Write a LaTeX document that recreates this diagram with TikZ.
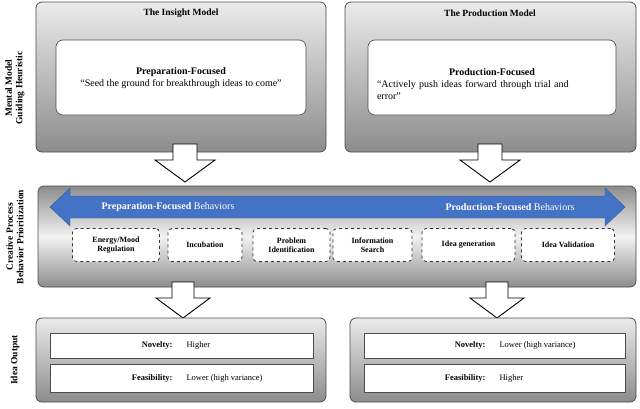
\documentclass[tikz,border=0pt]{standalone}
\usepackage{fontspec}
\setmainfont{Liberation Serif}
\begin{document}
\begin{tikzpicture}[x=1pt,y=-1pt,
  panel/.style={draw=black!70,rounded corners=6pt,top color=black!8,bottom color=black!45,line width=0.8pt},
  inner/.style={draw=black!70,fill=white,rounded corners=7pt,line width=0.6pt},
  row/.style={draw=black!70,fill=white,line width=0.6pt},
  dbox/.style={draw=black!80,dashed,line width=0.8pt,fill=white,rounded corners=4pt,minimum height=33pt,align=center,font=\bfseries\fontsize{8}{9}\selectfont},
  harrow/.style={draw=black,fill=white,line width=0.9pt},
  side/.style={rotate=90,align=center,font=\bfseries\fontsize{9.5}{10.5}\selectfont}]
\useasboundingbox (0,0) rectangle (640,408);
% side labels
\node[side] (s1) at (15,88) {Mental Model\\Guiding Heuristic};
\node[side] (s2) at (15,237) {Creative Process\\Behavior Prioritization};
\node[side] (s3) at (15,360) {Idea Output};
% top panels
\draw[panel] (36,2) rectangle (326,152);
\draw[panel] (345,2) rectangle (636,152);
\node[font=\bfseries\fontsize{9.5}{10.5}\selectfont] (t1) at (181,13) {The Insight Model};
\node[font=\bfseries\fontsize{9.5}{10.5}\selectfont] (t2) at (490,13) {The Production Model};
\draw[inner] (56,40) rectangle (306,115);
\draw[inner] (368,40) rectangle (616,115);
\node[align=center,font=\fontsize{10}{12}\selectfont] (p1) at (181,78) {\textbf{Preparation-Focused}\\``Seed the ground for breakthrough ideas to come''};
\node[align=left,font=\fontsize{10}{12}\selectfont,text width=230pt] (p2) at (492,84) {\hfill\textbf{Production-Focused}\hfill\hbox{}\\``Actively push ideas forward through trial and\\error''};
% arrows top
\foreach \cx in {185,490}{
 \draw[harrow] (\cx-12,144) -- (\cx+12,144) -- (\cx+12,160) -- (\cx+30,160) -- (\cx,182) -- (\cx-30,160) -- (\cx-12,160) -- cycle;}
% middle panel
\draw[panel,top color=black!45,bottom color=black!45,middle color=black!5] (38,186) rectangle (636,287);
\draw[fill={rgb,255:red,68;green,114;blue,196},draw={rgb,255:red,50;green,90;blue,160}]
 (50,207) -- (70,188) -- (70,196) -- (605,196) -- (605,188) -- (625,207) -- (605,226) -- (605,218) -- (70,218) -- (70,226) -- cycle;
\node[font=\fontsize{10}{12}\selectfont,text=white] (l1) at (168,207) {\textbf{Preparation-Focused} Behaviors};
\node[font=\fontsize{10}{12}\selectfont,text=white] (l2) at (510,207) {\textbf{Production-Focused} Behaviors};
\node[dbox,minimum width=87pt] (b1) at (116,245) {Energy/Mood\\Regulation};
\node[dbox,minimum width=74pt] (b2) at (205,245) {Incubation};
\node[dbox,minimum width=77pt] (b3) at (291.5,245) {Problem\\Identification};
\node[dbox,minimum width=79pt] (b4) at (372.5,245) {Information\\Search};
\node[dbox,minimum width=93pt] (b5) at (468.5,245) {Idea generation};
\node[dbox,minimum width=93pt] (b6) at (568,245) {Idea Validation};
% bottom arrows
\foreach \cx in {183,497}{
 \draw[harrow] (\cx-11,282) -- (\cx+11,282) -- (\cx+11,298) -- (\cx+27,298) -- (\cx,318) -- (\cx-27,298) -- (\cx-11,298) -- cycle;}
% bottom panels
\draw[panel] (36,318) rectangle (326,402);
\draw[panel] (350,318) rectangle (636,402);
\draw[row] (50,333) rectangle (313,358);
\draw[row] (50,364) rectangle (313,392);
\draw[row] (364,333) rectangle (625,358);
\draw[row] (364,364) rectangle (625,392);
\tikzset{lab/.style={font=\fontsize{8.5}{10}\selectfont}}
\node[lab,anchor=east] (n1) at (176,345.5) {\textbf{Novelty:}};
\node[lab,anchor=west] (v1) at (183,345.5) {Higher};
\node[lab,anchor=east] (f1) at (176,378) {\textbf{Feasibility:}};
\node[lab,anchor=west] (w1) at (183,378) {Lower (high variance)};
\node[lab,anchor=east] (n2) at (489,345.5) {\textbf{Novelty:}};
\node[lab,anchor=west] (v2) at (496,345.5) {Lower (high variance)};
\node[lab,anchor=east] (f2) at (489,378) {\textbf{Feasibility:}};
\node[lab,anchor=west] (w2) at (496,378) {Higher};
\end{tikzpicture}
\end{document}
